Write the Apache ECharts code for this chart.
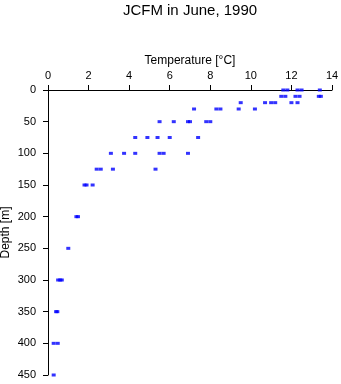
<!DOCTYPE html>
<html>
<head>
<meta charset="utf-8">
<script src="https://cdn.jsdelivr.net/npm/echarts@6/dist/echarts.min.js"></script>
<style>
html,body{margin:0;padding:0;background:#fff;}
#chart{width:341px;height:384px;}
</style>
</head>
<body>
<div id="chart"></div>
<script>
var titleText = 'JCFM in June, 1990';
var xAxisName = 'Temperature [°C]';
var yAxisName = 'Depth [m]';

var depth = [
  0, 0, 0, 0, 0,
  10, 10, 10, 10, 10, 10,
  20, 20, 20, 20, 20, 20,
  30, 30, 30, 30, 30,
  50, 50, 50, 50, 50, 50,
  75, 75, 75, 75, 75,
  100, 100, 100, 100, 100, 100,
  125, 125, 125, 125,
  150, 150, 150,
  200, 200,
  250,
  300, 300, 300,
  350, 350,
  400, 400,
  450
];
var temperature = [
  11.6, 11.8, 12.3, 12.5, 13.4,
  11.5, 11.7, 12.2, 12.4, 13.35, 13.45,
  9.5, 10.7, 11.0, 11.2, 12.0, 12.3,
  7.2, 8.3, 8.5, 9.4, 10.2,
  5.5, 6.2, 6.9, 7.0, 7.8, 8.0,
  4.3, 4.9, 5.4, 6.0, 7.4,
  3.1, 3.75, 4.3, 5.5, 5.7, 6.9,
  2.4, 2.6, 3.2, 5.3,
  1.8, 1.9, 2.2,
  1.4, 1.48,
  1.0,
  0.5, 0.6, 0.68,
  0.4, 0.46,
  0.28, 0.48,
  0.28
];

var points = temperature.map(function (t, i) { return [t, depth[i]]; });

var font = 'Liberation Sans, Arial, Helvetica, sans-serif';
var chart = echarts.init(document.getElementById('chart'), null, {renderer: 'canvas'});
chart.setOption({
  animation: false,
  backgroundColor: '#ffffff',
  graphic: [{
    type: 'text',
    x: 190,
    y: 3,
    style: {
      text: titleText,
      fill: '#000',
      font: '15px ' + font,
      textAlign: 'center',
      textVerticalAlign: 'top'
    }
  }],
  grid: {left: 48, right: 9, top: 90, bottom: 9, containLabel: false, outerBoundsMode: 'none'},
  xAxis: {
    type: 'value',
    position: 'top',
    min: 0, max: 14, interval: 2,
    name: xAxisName,
    nameLocation: 'middle',
    nameGap: 23,
    nameMoveOverlap: false,
    nameTextStyle: {color: '#000', fontSize: 12, fontFamily: font},
    axisLine: {show: true, onZero: false, lineStyle: {color: '#000', width: 1}},
    axisTick: {show: true, length: 5, lineStyle: {color: '#000'}},
    axisLabel: {color: '#000', fontSize: 11, fontFamily: font, margin: 9},
    splitLine: {show: false}
  },
  yAxis: {
    type: 'value',
    inverse: true,
    min: 0, max: 450, interval: 50,
    name: yAxisName,
    nameLocation: 'middle',
    nameGap: 36,
    nameMoveOverlap: false,
    nameTextStyle: {color: '#000', fontSize: 12, fontFamily: font},
    axisLine: {show: true, onZero: false, lineStyle: {color: '#000', width: 1}},
    axisTick: {show: true, length: 5, lineStyle: {color: '#000'}},
    axisLabel: {color: '#000', fontSize: 11, fontFamily: font, margin: 12},
    splitLine: {show: false}
  },
  series: [{
    type: 'scatter',
    data: points,
    symbol: 'rect',
    symbolSize: [4, 3],
    itemStyle: {color: '#0000ff'}
  }]
});
</script>
</body>
</html>
